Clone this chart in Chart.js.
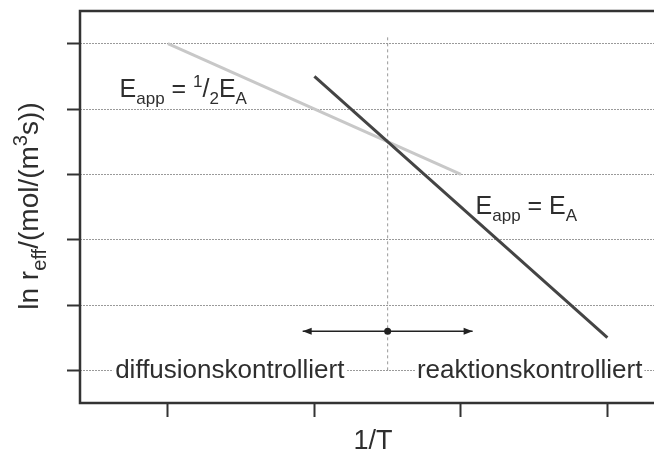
<!DOCTYPE html>
<html>
<head>
<meta charset="utf-8">
<script src="https://cdn.jsdelivr.net/npm/chart.js@4/dist/chart.umd.min.js"></script>
<style>
  html, body { margin: 0; padding: 0; background: #fff; overflow: hidden; }
  #wrap { width: 672px; height: 456px; }
</style>
</head>
<body>
<div id="wrap"><canvas id="chart"></canvas></div>
<script>
// axis ticks (no numbers are printed, only the tick marks)
const xTicks = [1, 2, 3, 4];
const yTicks = [1, 2, 3, 4, 5, 6];

// E_app = 1/2 E_A  (diffusion controlled branch)
const diffX = [1, 3];
const diffY = [6, 4];

// E_app = E_A  (reaction controlled branch)
const reakX = [2, 4];
const reakY = [5.5, 1.5];

// boundary between the two regimes
const boundaryX = [2.5, 2.5];
const boundaryY = [1, 6.1];

// double arrow with the pivot dot
const arrowX = [1.92, 3.08];
const arrowY = [1.6, 1.6];
const pivotX = [2.5];
const pivotY = [1.6];

const FONT = "'Liberation Sans', Arial, sans-serif";
const TXT = "#2e2e2e";

function pts(xs, ys) {
    return xs.map((x, i) => ({ x: x, y: ys[i] }));
}

// text with sub / superscripts: [text, kind] where kind is "", "sub" or "sup"
function drawRich(ctx, segs, x, y, size, k) {
    var cx = x;
    segs.forEach(s => {
        var sz = s[1] ? size * k : size;
        var dy = s[1] == "sub" ? size * 0.28 : (s[1] == "sup" ? -size * 0.38 : 0);
        ctx.font = `${sz}px ${FONT}`;
        ctx.fillText(s[0], cx, y + dy);
        cx += ctx.measureText(s[0]).width;
    });
    return cx - x;
}
function richWidth(ctx, segs, size, k) {
    var w = 0;
    segs.forEach(s => {
        ctx.font = `${s[1] ? size * k : size}px ${FONT}`;
        w += ctx.measureText(s[0]).width;
    });
    return w;
}

const yTitle = [["ln r", ""], ["eff", "sub"], ["/(mol/(m", ""], ["3", "sup"], ["s))", ""]];

// annotation texts, placed in data coordinates (left edge, baseline)
const notes = [
    { segs: [["E", ""], ["app", "sub"], [" = ", ""], ["1", "sup"], ["/", ""], ["2", "sub"], ["E", ""], ["A", "sub"]], x: 0.67, y: 5.19, bg: false },
    { segs: [["E", ""], ["app", "sub"], [" = ", ""], ["E", ""], ["A", "sub"]], x: 3.10, y: 3.39, bg: false },
    { segs: [["diffusionskontrolliert", ""]], x: 0.64, y: 1, bg: true },
    { segs: [["reaktionskontrolliert", ""]], x: 2.70, y: 1, bg: true }
];

const decor = {
    id: "decor",
    afterDatasetsDraw(chart) {
        const ctx = chart.ctx;
        const a = chart.chartArea;
        const sx = chart.scales.x, sy = chart.scales.y;
        ctx.save();

        // arrow heads
        const m = chart.getDatasetMeta(3).data;
        ctx.fillStyle = "#222";
        [[m[0], -1], [m[1], 1]].forEach(p => {
            var px = p[0].x, py = p[0].y, d = p[1];
            ctx.beginPath();
            ctx.moveTo(px, py);
            ctx.lineTo(px - d * 9, py - 3.5);
            ctx.lineTo(px - d * 9, py + 3.5);
            ctx.closePath();
            ctx.fill();
        });

        // annotations
        ctx.textBaseline = "alphabetic";
        ctx.textAlign = "left";
        notes.forEach(n => {
            var px = sx.getPixelForValue(n.x);
            var py = sy.getPixelForValue(n.y);
            var size = 25;
            if (n.bg) {
                size = 26;
                py += 8;
                var w = richWidth(ctx, n.segs, size, 0.7);
                ctx.fillStyle = "#fff";
                ctx.fillRect(px - 2, py - 20, w + 4, 26);
            }
            ctx.fillStyle = TXT;
            drawRich(ctx, n.segs, px, py, size, 0.68);
        });

        // frame
        ctx.strokeStyle = "#333";
        ctx.lineWidth = 2.5;
        ctx.strokeRect(a.left, a.top, a.right - a.left, a.bottom - a.top);

        // y title with subscript / superscript
        ctx.translate(38, 206);
        ctx.rotate(-Math.PI / 2);
        ctx.fillStyle = TXT;
        var w = richWidth(ctx, yTitle, 28, 0.72);
        drawRich(ctx, yTitle, -w / 2, 0, 28, 0.72);
        ctx.restore();
    }
};

var ctx = document.getElementById("chart").getContext("2d");

var myChart = new Chart(ctx, {
    type: "line",
    data: {
        datasets: [{
            label: "reaktionskontrolliert",
            data: pts(reakX, reakY),
            borderColor: "#444",
            borderWidth: 3,
            pointRadius: 0,
            order: 0
        }, {
            label: "diffusionskontrolliert",
            data: pts(diffX, diffY),
            borderColor: "#c8c8c8",
            borderWidth: 3,
            pointRadius: 0,
            order: 1
        }, {
            label: "Grenze",
            data: pts(boundaryX, boundaryY),
            borderColor: "#999",
            borderWidth: 1,
            borderDash: [3, 3],
            pointRadius: 0,
            order: 3
        }, {
            label: "Pfeil",
            data: pts(arrowX, arrowY),
            borderColor: "#222",
            borderWidth: 1.5,
            pointRadius: 0,
            order: 2
        }, {
            label: "Punkt",
            data: pts(pivotX, pivotY),
            showLine: false,
            pointRadius: 3.5,
            pointBackgroundColor: "#222",
            pointBorderWidth: 0,
            order: 0
        }]
    },
    options: {
        responsive: true,
        maintainAspectRatio: false,
        animation: false,
        layout: {
            padding: { left: 67, top: 11, right: 6, bottom: 1 }
        },
        plugins: {
            legend: { display: false },
            tooltip: { enabled: false }
        },
        scales: {
            x: {
                type: "linear",
                min: 0.4,
                max: 4.4,
                afterBuildTicks: s => { s.ticks = xTicks.map(v => ({ value: v })); },
                ticks: { display: false },
                grid: {
                    drawOnChartArea: false,
                    tickLength: 14,
                    tickColor: "#333",
                    tickWidth: 2
                },
                border: { display: false },
                title: {
                    display: true,
                    text: "1/T",
                    color: TXT,
                    font: { family: FONT, size: 27, lineHeight: 1 },
                    padding: { top: 11, bottom: 0 }
                }
            },
            y: {
                type: "linear",
                min: 0.5,
                max: 6.5,
                afterBuildTicks: s => { s.ticks = yTicks.map(v => ({ value: v })); },
                ticks: { display: false },
                grid: {
                    color: "#9a9a9a",
                    lineWidth: 1,
                    tickLength: 13,
                    tickColor: "#333",
                    tickWidth: 2,
                    tickBorderDash: []
                },
                border: { display: false, dash: [2, 1] }
            }
        }
    },
    plugins: [decor]
});
</script>
</body>
</html>
